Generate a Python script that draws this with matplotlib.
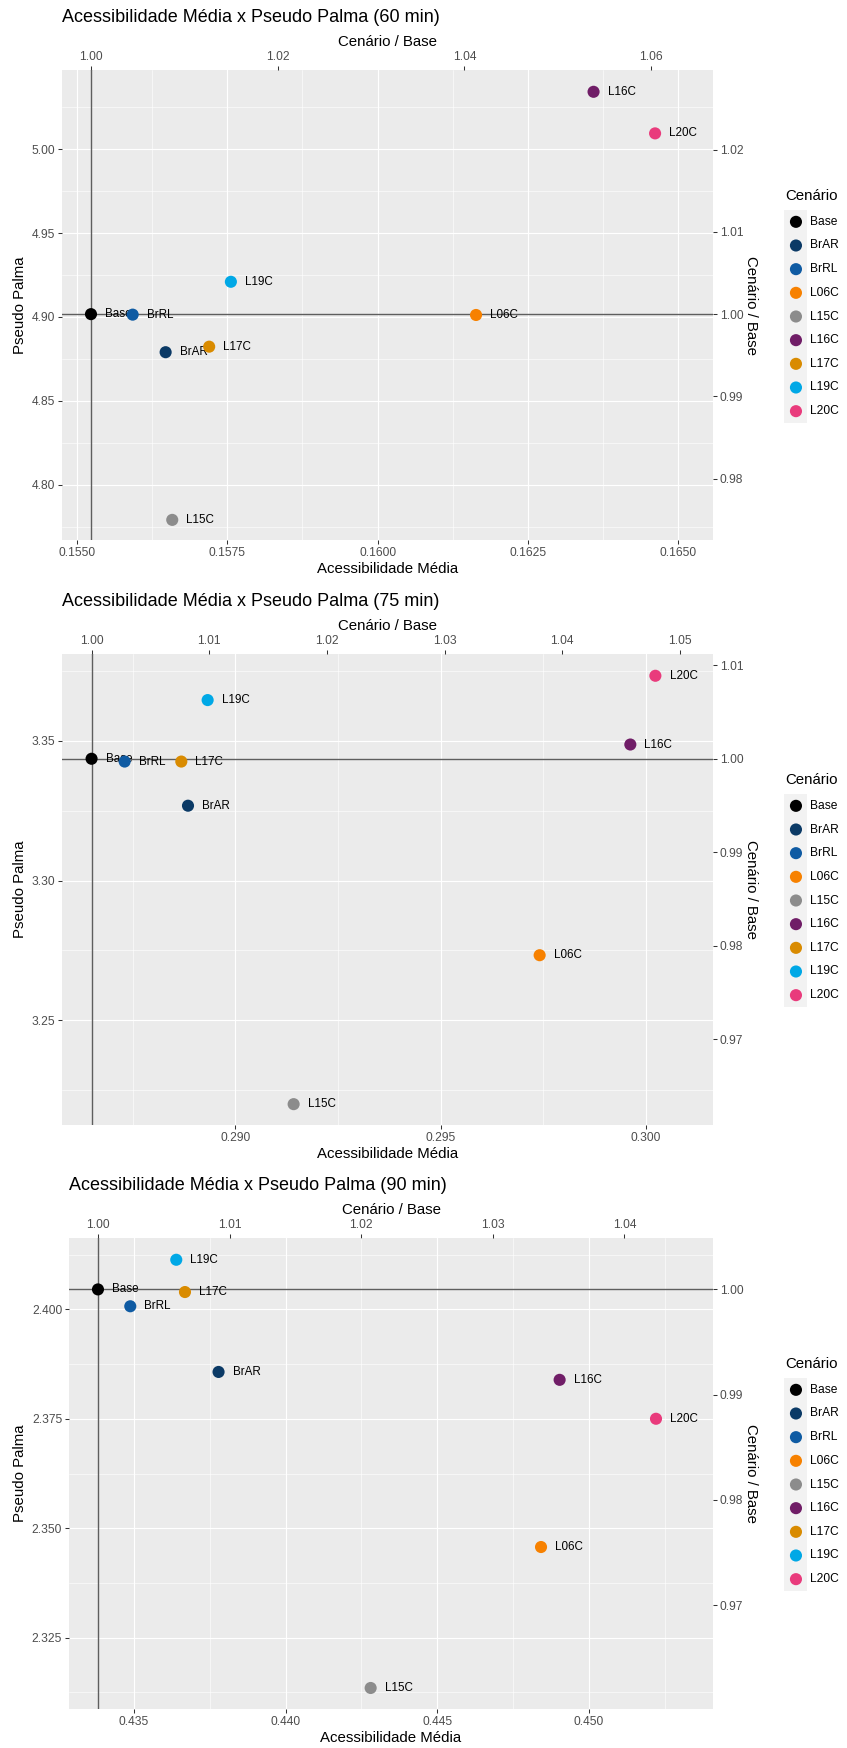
import matplotlib
matplotlib.use("Agg")
import matplotlib.pyplot as plt
from matplotlib.ticker import FixedLocator, FormatStrFormatter, NullFormatter

plt.rcParams['font.family'] = ['Liberation Sans', 'DejaVu Sans']

W, H, DPI = 847, 1748, 100

# ---- data -------------------------------------------------------------
scenarios = ["Base", "BrAR", "BrRL", "L06C", "L15C", "L16C", "L17C", "L19C", "L20C"]
colors = ["#000000", "#0B3A66", "#0F5BA3", "#F78100", "#8C8C8C",
          "#701D67", "#D98B00", "#00A8E6", "#E93B7C"]

acc_60 = [0.155234, 0.156475, 0.155927, 0.161636, 0.156585, 0.163590, 0.157199, 0.157560, 0.164613]
palma_60 = [4.9017, 4.8790, 4.9014, 4.9012, 4.7790, 5.0343, 4.8823, 4.9210, 5.0095]

acc_75 = [0.28650, 0.288848, 0.287305, 0.297410, 0.291420, 0.299618, 0.288685, 0.289326, 0.300228]
palma_75 = [3.3436, 3.3268, 3.3426, 3.2733, 3.2200, 3.3487, 3.3426, 3.3646, 3.3733]

acc_90 = [0.433813, 0.437788, 0.434878, 0.448418, 0.442802, 0.449031, 0.436681, 0.436394, 0.452208]
palma_90 = [2.40454, 2.38569, 2.40069, 2.34571, 2.31352, 2.38389, 2.40394, 2.41131, 2.37500]

minutes = ["60", "75", "90"]

x_ticks_60 = [0.1550, 0.1575, 0.1600, 0.1625, 0.1650]
y_ticks_60 = [4.80, 4.85, 4.90, 4.95, 5.00]
top_ticks_60 = [1.00, 1.02, 1.04, 1.06]
right_ticks_60 = [0.98, 0.99, 1.00, 1.01, 1.02]

x_ticks_75 = [0.290, 0.295, 0.300]
y_ticks_75 = [3.25, 3.30, 3.35]
top_ticks_75 = [1.00, 1.01, 1.02, 1.03, 1.04, 1.05]
right_ticks_75 = [0.97, 0.98, 0.99, 1.00, 1.01]

x_ticks_90 = [0.435, 0.440, 0.445, 0.450]
y_ticks_90 = [2.325, 2.350, 2.375, 2.400]
top_ticks_90 = [1.00, 1.01, 1.02, 1.03, 1.04]
right_ticks_90 = [0.97, 0.98, 0.99, 1.00]

# ---- layout (pixels: left, top, right, bottom) and axis ranges ---------
panels = [
    dict(acc=acc_60, palma=palma_60, rect=(62, 70, 713, 540),
         xlim=(0.154752, 0.165576), ylim=(4.7670, 5.0473),
         xt=x_ticks_60, yt=y_ticks_60, tt=top_ticks_60, rt=right_ticks_60,
         xfmt="%.4f", yfmt="%.2f"),
    dict(acc=acc_75, palma=palma_75, rect=(62, 654, 713, 1125),
         xlim=(0.285780, 0.301631), ylim=(3.21254, 3.38109),
         xt=x_ticks_75, yt=y_ticks_75, tt=top_ticks_75, rt=right_ticks_75,
         xfmt="%.3f", yfmt="%.2f"),
    dict(acc=acc_90, palma=palma_90, rect=(69, 1238, 713, 1709),
         xlim=(0.432858, 0.454087), ylim=(2.30872, 2.41628),
         xt=x_ticks_90, yt=y_ticks_90, tt=top_ticks_90, rt=right_ticks_90,
         xfmt="%.3f", yfmt="%.3f"),
]

BG = "#EBEBEB"
TICK_C = "#333333"
LAB_C = "#4D4D4D"
TICK_FS = 8.66
AXT_FS = 10.8
TITLE_FS = 13.0
PT_SIZE = 76


def fx(px):
    return px / W


def fy(py):
    return 1 - py / H


def minors(major, lo, hi):
    step = major[1] - major[0]
    cand = [major[0] - step / 2] + [m + step / 2 for m in major]
    return [c for c in cand if lo <= c <= hi]


fig = plt.figure(figsize=(W / DPI, H / DPI), dpi=DPI)
fig.patch.set_facecolor("white")

for p, mins in zip(panels, minutes):
    L, T, R, B = p["rect"]
    ax = fig.add_axes([fx(L), fy(B), (R - L) / W, (B - T) / H])
    ax.set_facecolor(BG)
    for s in ax.spines.values():
        s.set_visible(False)
    ax.set_xlim(*p["xlim"])
    ax.set_ylim(*p["ylim"])

    ax.xaxis.set_major_locator(FixedLocator(p["xt"]))
    ax.yaxis.set_major_locator(FixedLocator(p["yt"]))
    ax.xaxis.set_minor_locator(FixedLocator(minors(p["xt"], *p["xlim"])))
    ax.yaxis.set_minor_locator(FixedLocator(minors(p["yt"], *p["ylim"])))
    ax.xaxis.set_major_formatter(FormatStrFormatter(p["xfmt"]))
    ax.yaxis.set_major_formatter(FormatStrFormatter(p["yfmt"]))
    ax.xaxis.set_minor_formatter(NullFormatter())
    ax.yaxis.set_minor_formatter(NullFormatter())
    ax.grid(which="major", color="white", linewidth=0.8)
    ax.grid(which="minor", color="white", linewidth=0.4)
    ax.set_axisbelow(True)
    ax.tick_params(which="major", direction="out", length=2.7, width=0.75,
                   color=TICK_C, labelcolor=LAB_C, labelsize=TICK_FS, pad=2.2)
    ax.tick_params(which="minor", length=0)

    acc, palma = p["acc"], p["palma"]
    base_x, base_y = acc[0], palma[0]

    # reference lines through the Base scenario
    ax.axvline(base_x, color="#5E5E5E", linewidth=1.0, zorder=2)
    ax.axhline(base_y, color="#5E5E5E", linewidth=1.0, zorder=2)

    # scenario labels (under the points)
    for xv, yv, name in zip(acc, palma, scenarios):
        ax.annotate(name, (xv, yv), xytext=(10.2, 0), textcoords="offset points",
                    ha="left", va="center", fontsize=8.4, color="black", zorder=3)
    ax.scatter(acc, palma, s=PT_SIZE, c=colors, linewidths=0, zorder=4)

    # secondary axes expressed as ratio to Base
    top = ax.secondary_xaxis("top", functions=(lambda v, b=base_x: v / b,
                                                lambda r, b=base_x: r * b))
    top.set_xticks(p["tt"])
    top.xaxis.set_major_formatter(FormatStrFormatter("%.2f"))
    top.xaxis.set_minor_locator(FixedLocator([]))
    right = ax.secondary_yaxis("right", functions=(lambda v, b=base_y: v / b,
                                                    lambda r, b=base_y: r * b))
    right.set_yticks(p["rt"])
    right.yaxis.set_major_formatter(FormatStrFormatter("%.2f"))
    right.yaxis.set_minor_locator(FixedLocator([]))
    for sec in (top, right):
        for s in sec.spines.values():
            s.set_visible(False)
        sec.tick_params(which="major", direction="out", length=2.7, width=0.75,
                        color=TICK_C, labelcolor=LAB_C, labelsize=TICK_FS, pad=2.2)
        sec.tick_params(which="minor", length=0)

    # titles and axis titles
    fig.text(fx(L), fy(T - 52.5), f"Acessibilidade Média x Pseudo Palma ({mins} min)",
             ha="left", va="center", fontsize=TITLE_FS, color="black")
    fig.text(fx((L + R) / 2), fy(T - 27.5), "Cenário / Base",
             ha="center", va="center", fontsize=AXT_FS, color="black")
    fig.text(fx((L + R) / 2), fy(B + 28.8), "Acessibilidade Média",
             ha="center", va="center", fontsize=AXT_FS, color="black")
    fig.text(fx(20), fy((T + B) / 2), "Pseudo Palma", rotation=90,
             ha="center", va="center", fontsize=AXT_FS, color="black")
    fig.text(fx(750.7), fy((T + B) / 2), "Cenário / Base", rotation=270,
             ha="center", va="center", fontsize=AXT_FS, color="black")

    # legend
    fig.text(fx(785), fy(T + 126.5), "Cenário", ha="left", va="center",
             fontsize=AXT_FS, color="black")
    n = len(scenarios)
    lax = fig.add_axes([fx(784), fy(T + 353), 23 / W, 213 / H])
    lax.set_facecolor("#F2F2F2")
    for s in lax.spines.values():
        s.set_visible(False)
    lax.set_xticks([])
    lax.set_yticks([])
    lax.set_xlim(0, 1)
    lax.set_ylim(n, 0)
    rows = [i + 0.5 for i in range(n)]
    lax.scatter([0.52] * n, rows, s=PT_SIZE, c=colors, linewidths=0, clip_on=False)
    for r, name in zip(rows, scenarios):
        lax.text(26 / 23, r, name, ha="left", va="center", fontsize=TICK_FS,
                 color="black", clip_on=False)

fig.savefig("out.png", dpi=DPI)
